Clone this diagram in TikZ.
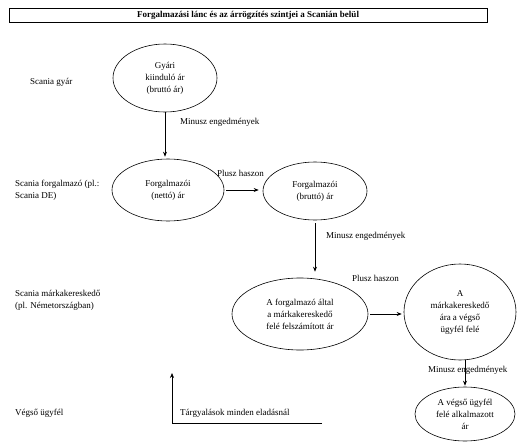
\documentclass[tikz,border=0pt]{standalone}
\usepackage{fontspec}
\setmainfont{Liberation Serif}
\usetikzlibrary{shapes.geometric,arrows.meta}
\begin{document}
\begin{tikzpicture}[x=1pt,y=-1pt,
  every node/.style={font=\fontsize{9}{12}\selectfont},
  oval/.style={draw,ellipse,inner sep=0pt,align=center,line width=0.6pt},
  lbl/.style={inner sep=0pt,anchor=west},
  side/.style={inner sep=0pt,anchor=west,align=left},
  arr/.style={-{Stealth[length=5pt,width=4pt]},line width=0.6pt}]
\useasboundingbox (0,0) rectangle (525,442);
\node[draw,line width=0.6pt,minimum width=478pt,minimum height=14pt,inner sep=0pt] (title) at (248,15) {\textbf{Forgalmazási lánc és az árrögzítés szintjei a Scanián belül}};
% side labels
\node[side] (s1) at (30,82) {Scania gyár};
\node[side] (s2) at (15,190) {Scania forgalmazó (pl.:\\Scania DE)};
\node[side] (s3) at (15,300) {Scania márkakereskedő\\(pl. Németországban)};
\node[side] (s4) at (15,413) {Végső ügyfél};
% ellipses
\node[oval,minimum width=104pt,minimum height=68pt] (e1) at (165,78) {Gyári\\kiinduló ár\\(bruttó ár)};
\node[oval,minimum width=112pt,minimum height=62pt] (e2) at (168,190) {Forgalmazói\\(nettó) ár};
\node[oval,minimum width=104pt,minimum height=58pt] (e3) at (315,191) {Forgalmazói\\(bruttó) ár};
\node[oval,minimum width=136pt,minimum height=72pt] (e4) at (300,314) {A forgalmazó által\\a márkakereskedő\\felé felszámított ár};
\node[oval,minimum width=112pt,minimum height=96pt] (e5) at (460,312) {A\\márkakereskedő\\ára a végső\\ügyfél felé};
\node[oval,minimum width=100pt,minimum height=54pt] (e6) at (465,414) {A végső ügyfél\\felé alkalmazott\\ár};
% arrows
\draw[arr,shorten <=0pt,shorten >=2pt] (e1.south) -- (e1.south |- e2.north);
\node[lbl] (l1) at (180,122) {Minusz engedmények};
\draw[arr,shorten <=2pt,shorten >=4pt] (e2.east) -- (e2.east -| e3.west);
\node[lbl] (l2) at (217,173) {Plusz haszon};
\draw[arr,shorten <=3pt,shorten >=6pt] (e3.south) -- (e3.south |- e4.north);
\node[lbl] (l3) at (326,236) {Minusz engedmények};
\node[lbl] (l4) at (352,278) {Plusz haszon};
\draw[arr,shorten <=2pt,shorten >=2pt] (e4.east) -- (e4.east -| e5.west);
\draw[arr,shorten <=0pt,shorten >=1pt] (e6.north |- e5.south) -- (e6.north);
\node[lbl] (l5) at (428,370) {Minusz engedmények};
% negotiation
\node[lbl] (l6) at (180,413) {Tárgyalások minden eladásnál};
\coordinate (n1) at (322,423);
\coordinate (n2) at (172,423);
\coordinate (n3) at (172,373);
\draw[arr] (n1) -- (n2) -- (n3);
\end{tikzpicture}
\end{document}
